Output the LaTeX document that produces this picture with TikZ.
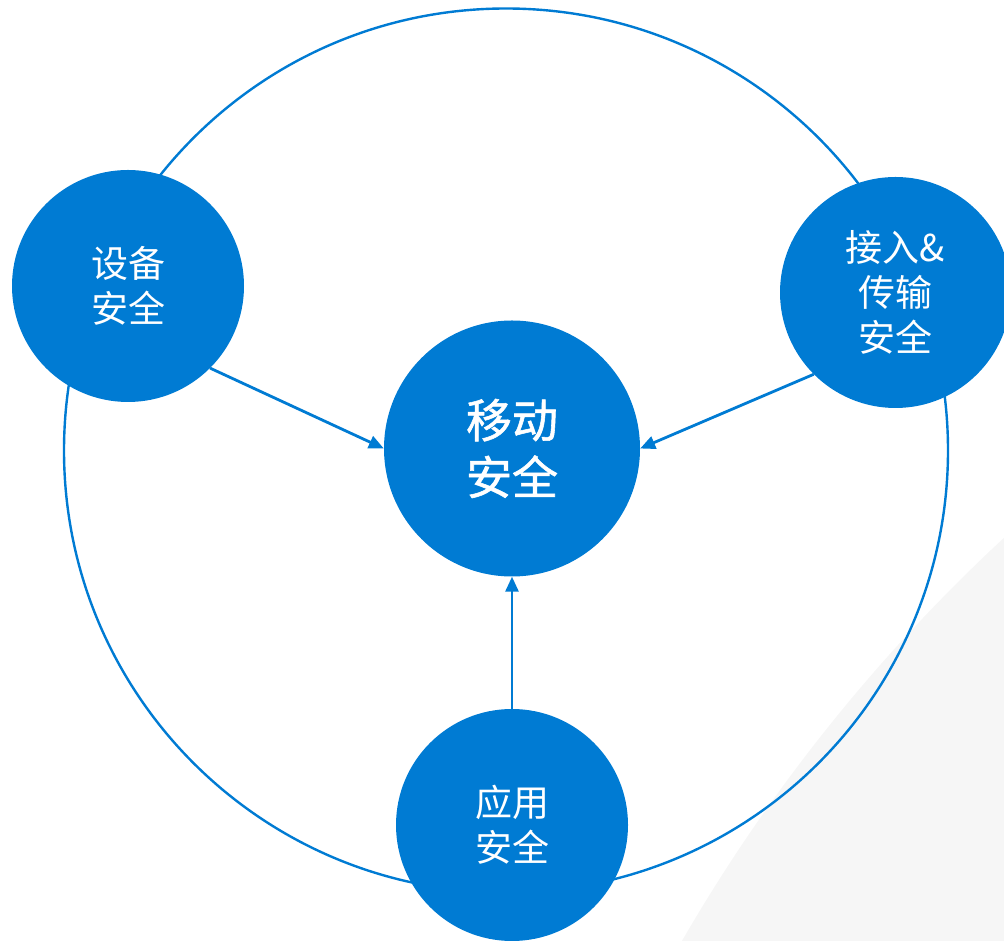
\documentclass[tikz,border=0pt]{standalone}
\usepackage{fontspec}
\usepackage{tikz}
\usetikzlibrary{arrows.meta}
\newfontfamily\cjk{Noto Sans CJK SC}
\newfontfamily\cjkhub[FakeBold=1.2]{Noto Sans CJK SC}
\definecolor{secblue}{HTML}{007BD3}
\definecolor{palegray}{HTML}{F6F6F6}
\tikzset{
  ring/.style={draw=secblue,line width=2.4pt},
  bubble/.style={circle,fill=secblue,text=white,inner sep=0pt,minimum size=232pt,align=center,
    font={\cjk\fontsize{37}{45}\selectfont}},
  hub/.style={bubble,minimum size=256pt,font={\cjkhub\fontsize{46}{57}\selectfont}},
  link/.style={draw=secblue,line width=2.8pt,-{Triangle[length=15pt,width=13pt]}}
}

\begin{document}
\begin{tikzpicture}[x=1pt,y=1pt]
\useasboundingbox (0,0) rectangle (1004,940);
\begin{scope}
\clip (0,0) rectangle (1004,940);
\fill[palegray] (2177,-864) circle (1726);
\end{scope}
\draw[ring] (506,489.5) circle (442);
\node[hub] (core) at (512,491.5) {移动\\安全};
\node[bubble] (dev) at (128,654) {设备\\安全};
\node[bubble,minimum size=231pt] (acc) at (895.5,647.5) {接入\&\\传输\\安全};
\node[bubble] (app) at (512,115) {应用\\安全};
\draw[link] (dev.-45) -- (core.west);
\draw[link] (acc.-135) -- (core.east);
\draw[link] (app.north) -- (core.south);
\end{tikzpicture}
\end{document}
